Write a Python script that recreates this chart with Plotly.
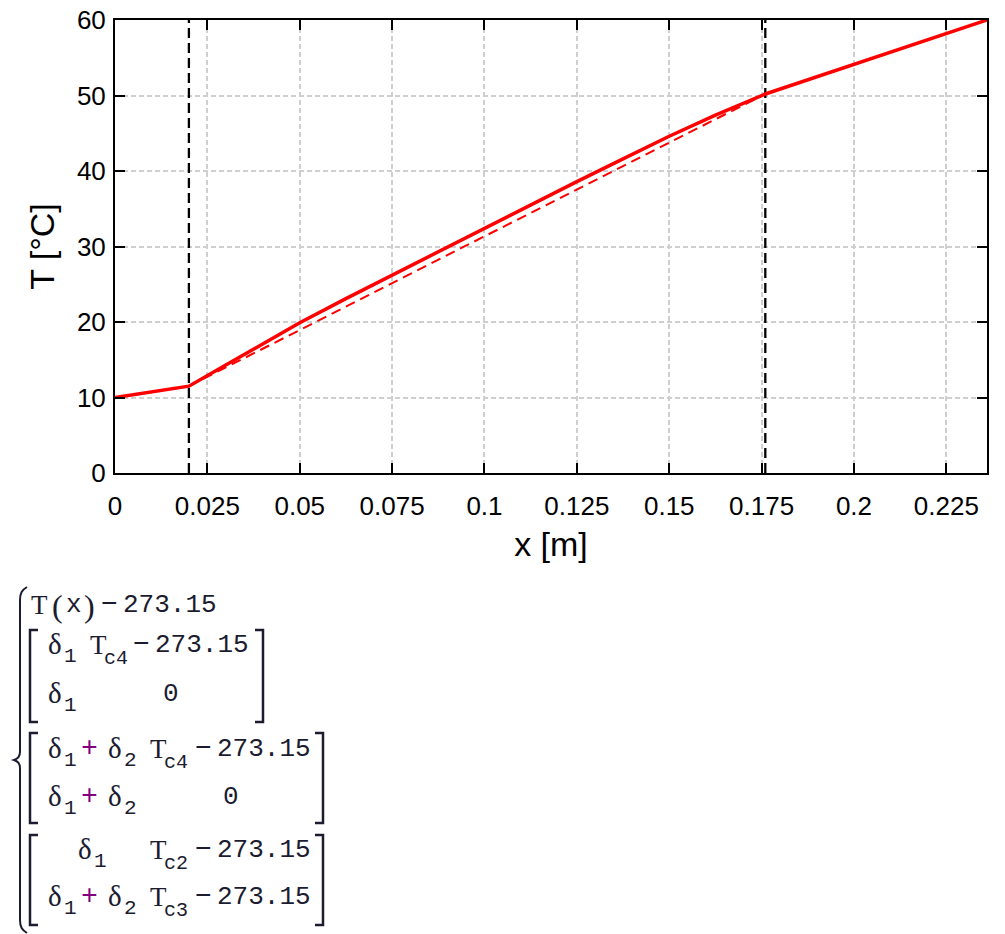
import plotly.graph_objects as go

# ---------------- data ----------------
x_interfaces = [0.02, 0.176]
interface_T_range = [0, 60]

x_solid = [0.0, 0.02, 0.03, 0.04, 0.05, 0.0625, 0.075, 0.0875, 0.1, 0.1125, 0.125,
           0.1375, 0.15, 0.1625, 0.176, 0.236]
T_solid = [10.0, 11.5, 14.3, 17.1, 19.9, 23.1, 26.2, 29.4, 32.5, 35.6, 38.6,
           41.6, 44.6, 47.4, 50.2, 60.0]

x_dashed = [0.02, 0.176]
T_dashed = [11.5, 50.2]

x_tickvals = [0, 0.025, 0.05, 0.075, 0.1, 0.125, 0.15, 0.175, 0.2, 0.225]
x_ticktext = ["0", "0.025", "0.05", "0.075", "0.1", "0.125", "0.15", "0.175", "0.2", "0.225"]
y_tickvals = [0, 10, 20, 30, 40, 50, 60]

# ---------------- figure ----------------
W, H = 1005, 934
L, R, T_, B = 115, 987, 20, 473

fig = go.Figure()

for xi in x_interfaces:
    fig.add_trace(go.Scatter(x=[xi, xi], y=interface_T_range, mode="lines",
                             line=dict(color="black", width=2.3, dash="10px,5px"),
                             showlegend=False, hoverinfo="skip"))

fig.add_trace(go.Scatter(x=x_dashed, y=T_dashed, mode="lines",
                         line=dict(color="#ff0000", width=2, dash="10px,6px"),
                         showlegend=False))
fig.add_trace(go.Scatter(x=x_solid, y=T_solid, mode="lines",
                         line=dict(color="#ff0000", width=3.5),
                         showlegend=False))

axis_common = dict(
    showline=True, linewidth=2, linecolor="black", mirror="ticks",
    ticks="inside", ticklen=10, tickwidth=2, tickcolor="black",
    showgrid=True, gridcolor="#cfcfcf", gridwidth=1.5, griddash="5px,3px",
    zeroline=False, automargin=False,
    tickfont=dict(family="Liberation Sans", size=26, color="black"),
)

fig.update_layout(
    width=W, height=H,
    margin=dict(l=0, r=0, t=0, b=0, autoexpand=False),
    paper_bgcolor="white", plot_bgcolor="white",
    xaxis=dict(domain=[L / W, R / W], range=[0, 0.236],
               tickvals=x_tickvals, ticktext=x_ticktext, ticklabelstandoff=9,
               title=dict(text="x [m]", font=dict(family="Liberation Sans", size=34, color="black"),
                          standoff=12),
               **axis_common),
    yaxis=dict(domain=[1 - B / H, 1 - T_ / H], range=[0, 60], tickvals=y_tickvals,
               ticklabelstandoff=2,
               title=dict(text="T [°C]", font=dict(family="Liberation Sans", size=34, color="black"),
                          standoff=12),
               **axis_common),
)

# ---------------- Mathcad-like expression below the chart ----------------
def px(x):
    return x / W

def py(y):
    return 1 - y / H

TXT = "#1c1c30"
PLUS = "#800080"
MONO = "Liberation Mono"
SERIF = "Liberation Serif"

def txt(s, x, base, size=26, color=TXT, family=MONO, anchor="left"):
    fig.add_annotation(text=s, x=px(x), y=py(base - 0.3 * size), xref="paper", yref="paper",
                       xanchor=anchor, yanchor="middle", showarrow=False,
                       font=dict(family=family, size=size, color=color))

def delta(x, base, sub):
    txt("δ", x, base, size=29, family=SERIF)
    txt(sub, x + 16, base + 10, size=21)

def T_sub(x, base, sub):
    txt("T", x, base, family=SERIF, size=27)
    txt(sub, x + 14, base + 11, size=20)

def minus_num(x, base, num="273.15"):
    txt("−", x, base, size=28)
    txt(num, x + 22, base)

def path_shape(pts, width=2):
    d = "M " + " L ".join(f"{px(a)},{py(b)}" for a, b in pts)
    fig.add_shape(type="path", path=d, xref="paper", yref="paper",
                  line=dict(color=TXT, width=width))

# big brace
brace = ("M {a} C {b} {c} {d} L {e} C {f} {g} {h} C {i} {j} {k} L {l} C {m} {n} {o}").format(
    a=f"{px(27)},{py(587)}", b=f"{px(22)},{py(590)}", c=f"{px(20)},{py(593)}", d=f"{px(20)},{py(600)}",
    e=f"{px(20)},{py(752)}", f=f"{px(20)},{py(757)}", g=f"{px(17)},{py(759)}", h=f"{px(14)},{py(760)}",
    i=f"{px(17)},{py(761)}", j=f"{px(20)},{py(763)}", k=f"{px(20)},{py(768)}",
    l=f"{px(20)},{py(920)}", m=f"{px(20)},{py(927)}", n=f"{px(22)},{py(930)}", o=f"{px(27)},{py(933)}")
fig.add_shape(type="path", path=brace, xref="paper", yref="paper", line=dict(color=TXT, width=2))

# line 1: T(x) - 273.15
b1 = 613
txt("T", 29, b1, family=SERIF, size=27)
txt("(", 50, b1 + 3, size=32, family=SERIF)
txt("x", 64, b1)
txt(")", 82, b1 + 3, size=32, family=SERIF)
minus_num(99, b1)

# matrix brackets
for (y0, y1, xr) in [(630, 722, 263), (733, 823, 323), (835, 925, 323)]:
    path_shape([(38, y0), (30, y0), (30, y1), (38, y1)], width=2.5)
    path_shape([(xr - 8, y0), (xr, y0), (xr, y1), (xr - 8, y1)], width=2.5)

# matrix 1
b = 653
delta(46, b, "1")
T_sub(88, b, "c4")
minus_num(131, b)
b = 702
delta(46, b, "1")
txt("0", 161, b)

# matrix 2
b = 757
delta(46, b, "1")
txt("+", 79, b, color=PLUS, size=28)
delta(106, b, "2")
T_sub(148, b, "c4")
minus_num(193, b)
b = 805
delta(46, b, "1")
txt("+", 79, b, color=PLUS, size=28)
delta(106, b, "2")
txt("0", 221, b)

# matrix 3
b = 858
delta(76, b, "1")
T_sub(148, b, "c2")
minus_num(193, b)
b = 905
delta(46, b, "1")
txt("+", 79, b, color=PLUS, size=28)
delta(106, b, "2")
T_sub(148, b, "c3")
minus_num(193, b)

fig.write_html("out.html", config={"displayModeBar": False},
               post_script="document.body.style.margin='0px';document.body.style.overflow='hidden';")
